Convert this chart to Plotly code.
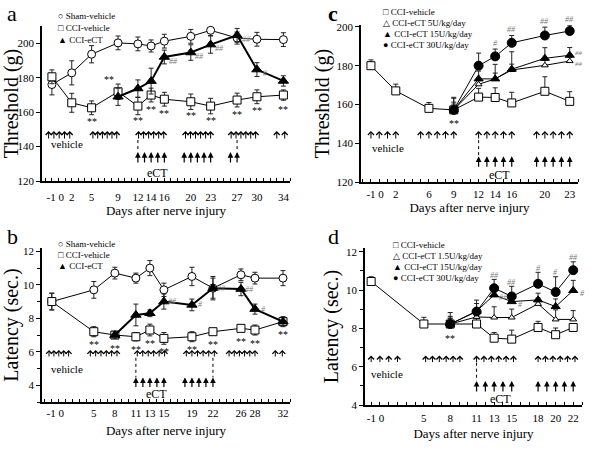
import plotly.graph_objects as go

SERIF = "Liberation Serif, Times New Roman, serif"

# ---------------- data ----------------
# Panel a : mechanical threshold (g)
a_days = [-1, 2, 5, 9, 12, 14, 16, 20, 23, 27, 30, 34]
a_sham = [176.0, 182.8, 193.6, 200.2, 199.6, 198.4, 201.2, 204.0, 207.5, 203.0, 202.3, 202.1]
a_sham_err = [6, 7, 5, 4, 4, 3.5, 4, 4, 3, 3.5, 4, 4]
a_veh = [180.5, 165.4, 162.5, 171.8, 163.5, 169.9, 167.5, 166.0, 163.5, 167.0, 168.9, 169.9]
a_veh_err = [4, 5.5, 4, 4.5, 5, 4, 4, 4.5, 4.5, 4, 4, 3]
a_ect_days = [9, 12, 14, 16, 20, 23, 27, 30, 34]
a_ect = [168.9, 173.7, 178.0, 192.0, 194.6, 199.2, 204.6, 184.7, 178.1]
a_ect_err = [5, 5, 7.5, 4, 4.5, 5, 4, 4, 3]
a_ticks = [-1, 0, 2, 5, 9, 12, 14, 16, 20, 23, 27, 30, 34]
a_star_days = [5, 12, 14, 16, 20, 23, 27, 30, 34]
a_hash = {16: "##", 20: "##", 23: "##", 27: "##", 30: "#"}

# Panel b : thermal latency (sec.)
b_days = [-1, 5, 8, 11, 13, 15, 19, 22, 26, 28, 32]
b_sham = [9.0, 9.7, 10.7, 10.4, 11.0, 9.7, 10.5, 9.8, 10.6, 10.4, 10.4]
b_sham_err = [0.5, 0.5, 0.35, 0.3, 0.45, 0.4, 0.55, 0.6, 0.35, 0.35, 0.45]
b_veh = [9.0, 7.2, 7.0, 6.9, 7.3, 6.8, 6.9, 7.2, 7.4, 7.3, 7.8]
b_veh_err = [0.5, 0.3, 0.2, 0.25, 0.35, 0.35, 0.3, 0.15, 0.15, 0.3, 0.25]
b_ect_days = [8, 11, 13, 15, 19, 22, 26, 28, 32]
b_ect = [7.0, 8.2, 8.3, 9.0, 8.8, 9.8, 9.75, 8.55, 7.8]
b_ect_err = [0.2, 0.65, 0.2, 0.45, 0.35, 0.7, 0.4, 0.3, 0.3]
b_ticks = [-1, 0, 5, 8, 11, 13, 15, 19, 22, 26, 28, 32]
b_star_days = [5, 8, 11, 13, 15, 19, 22, 26, 28, 32]
b_hash = {15: "##", 19: "#", 22: "##", 26: "##", 28: "#"}

# Panel c : threshold, dose response
c_days = [-1, 2, 6, 9, 12, 14, 16, 20, 23]
c_veh = [180.0, 167.0, 158.0, 157.2, 163.8, 163.6, 160.8, 166.8, 161.6]
c_veh_err = [3, 3.5, 3, 6, 4.5, 5, 5.5, 7.5, 5]
c_ect_days = [9, 12, 14, 16, 20, 23]
c_ect5 = [157.2, 170.4, 173.2, 177.8, 180.2, 182.4]
c_ect5_err = [3, 2.5, 3, 3, 2.5, 2]
c_ect15 = [157.2, 173.2, 173.2, 178.2, 183.8, 185.4]
c_ect15_err = [4, 4, 7.5, 9, 5.5, 4]
c_ect30 = [157.2, 180.0, 184.8, 191.8, 195.6, 197.9]
c_ect30_err = [6.5, 6.5, 3.8, 3.8, 4.3, 3]
c_ticks = [-1, 0, 2, 6, 9, 12, 14, 16, 20, 23]
c_hash30 = {14: "#", 16: "##", 20: "##", 23: "##"}

# Panel d : latency, dose response
d_days = [-1, 5, 8, 11, 13, 15, 18, 20, 22]
d_veh = [10.45, 8.23, 8.23, 8.23, 7.49, 7.44, 8.05, 7.67, 8.05]
d_veh_err = [0.25, 0.35, 0.3, 0.3, 0.3, 0.47, 0.32, 0.35, 0.2]
d_ect_days = [8, 11, 13, 15, 18, 20, 22]
d_ect1 = [8.23, 8.6, 8.57, 8.57, 9.28, 8.47, 8.47]
d_ect1_err = [0.3, 0.3, 0.56, 0.44, 0.3, 0.5, 0.46]
d_ect15 = [8.23, 8.9, 9.75, 9.4, 9.49, 9.14, 9.98]
d_ect15_err = [0.4, 0.4, 0.3, 0.3, 0.35, 0.4, 0.53]
d_ect30 = [8.23, 8.88, 10.1, 9.67, 10.33, 9.9, 11.04]
d_ect30_err = [0.6, 0.6, 0.46, 0.53, 0.6, 0.8, 0.44]
d_ticks = [-1, 0, 5, 8, 11, 13, 15, 18, 20, 22]
d_hash30 = {13: "##", 15: "##", 18: "#", 20: "#", 22: "##"}
d_hash15 = {13: "##", 15: "#", 22: "#"}

# injection schedules: (first day, last day, number of injections)
a_vehicle_groups = [(-1.5, 1.7, 5), (5.2, 8.8, 6), (12.1, 15.9, 6), (19.2, 23.0, 6), (26.1, 29.8, 6), (33.0, 34.2, 2)]
a_ect_groups = [(12, 16, 5), (19, 23, 5), (26, 27, 2)]
b_vehicle_groups = [(-1.4, 1.4, 5), (4.5, 8.3, 6), (11.2, 15.1, 6), (18.2, 22.2, 6), (24.3, 28.0, 6), (30.9, 31.9, 2)]
b_ect_groups = [(11, 15, 5), (18, 22, 5)]
c_vehicle_groups = [(-1, 2, 4), (5, 9, 5), (12, 16, 5), (19, 23, 5)]
c_ect_groups = [(12, 16, 5), (19, 23, 5)]
d_vehicle_groups = [(-1, 2, 4), (5.2, 9.1, 6), (11, 15.2, 6), (18, 22.2, 6)]
d_ect_groups = [(11, 15, 5), (18, 22, 5)]

# ---------------- figure ----------------
fig = go.Figure()
ann = []
shapes = []


def series(xr, yr, x, y, err, symbol, size, fill, lw, upper_only):
    fig.add_trace(go.Scatter(
        x=x, y=y, xaxis=xr, yaxis=yr, mode="lines+markers", showlegend=False,
        cliponaxis=False,
        line=dict(color="black", width=lw),
        marker=dict(symbol=symbol, size=size, color=fill, line=dict(color="black", width=1)),
        error_y=dict(type="data", symmetric=False, array=err,
                     arrayminus=[0] * len(err) if upper_only else err,
                     color="#222", thickness=1, width=2.5)))


def txt(xr, yr, x, y, s, size=10, color="black", xshift=0, yshift=0, italic=False, xanchor="center"):
    ann.append(dict(x=x, y=y, xref=xr, yref=yr, text=s, showarrow=False,
                    xshift=xshift, yshift=yshift, xanchor=xanchor,
                    font=dict(family=SERIF, size=size, color=color,
                              style="italic" if italic else "normal")))


def arrows(xr, yr, groups, y, length, head, width, size):
    for first, last, n in groups:
        step = (last - first) / (n - 1) if n > 1 else 0
        for i in range(n):
            ann.append(dict(x=first + i * step, y=y, xref=xr, yref=yr, text="",
                            showarrow=True, ax=0, ay=length, arrowhead=head,
                            arrowsize=size, arrowwidth=width, arrowcolor="black", standoff=0))


def dashed(xr, yr, day, y0, y1):
    shapes.append(dict(type="line", xref=xr, yref=yr, x0=day, x1=day, y0=y0, y1=y1,
                       line=dict(color="black", width=1, dash="dot")))


def legend(entries, x0, y0, dy, size=9):
    for i, s in enumerate(entries):
        ann.append(dict(x=x0 / 600, y=1 - (y0 + i * dy) / 450, xref="paper", yref="paper",
                        text=s, showarrow=False, xanchor="left", yanchor="middle",
                        font=dict(family=SERIF, size=size, color="black")))


OPEN_SIZE, FILL_SIZE = 1.15, 0.95

# ---- panel a (x, y)
series("x", "y", a_days, a_sham, a_sham_err, "circle", 8, "white", 1, False)
series("x", "y", a_days, a_veh, a_veh_err, "square", 8, "white", 1, False)
series("x", "y", a_ect_days, a_ect, a_ect_err, "triangle-up", 9, "black", 2, False)
for d in a_star_days:
    txt("x", "y", d, a_veh[a_days.index(d)], "**", yshift=-14)
txt("x", "y", 9, a_veh[a_days.index(9)], "**", xshift=-9, yshift=12)
for d, s in a_hash.items():
    txt("x", "y", d, a_ect[a_ect_days.index(d)], s, size=8, color="#777", xshift=9, yshift=-4, italic=True)
arrows("x", "y", a_vehicle_groups, 149, 9, 4, 1, OPEN_SIZE)
arrows("x", "y", a_ect_groups, 136.8, 12, 2, 1.2, FILL_SIZE)
for d in [12, 27]:
    dashed("x", "y", d, 143.8, 137)
txt("x", "y", 1.27, 141.4, "vehicle", size=11)
txt("x", "y", 14.9, 124.8, "eCT", size=12)

# ---- panel c (x2, y2)
series("x2", "y2", c_days, c_veh, c_veh_err, "square", 8, "white", 1, True)
series("x2", "y2", c_ect_days, c_ect5, c_ect5_err, "triangle-up", 6, "white", 1, True)
series("x2", "y2", c_ect_days, c_ect15, c_ect15_err, "triangle-up", 8, "black", 1, True)
series("x2", "y2", c_ect_days, c_ect30, c_ect30_err, "circle", 9, "black", 1, True)
txt("x2", "y2", 9, c_veh[c_days.index(9)], "**", yshift=-14)
for d, s in c_hash30.items():
    i = c_ect_days.index(d)
    txt("x2", "y2", d, c_ect30[i] + c_ect30_err[i], s, size=8, color="#777", yshift=6, italic=True)
txt("x2", "y2", 23, c_ect15[-1], "##", size=7, color="#777", xshift=9, yshift=2, italic=True)
txt("x2", "y2", 23, c_ect5[-1], "##", size=7, color="#777", xshift=9, yshift=-3, italic=True)
arrows("x2", "y2", c_vehicle_groups, 146.3, 9, 4, 1, OPEN_SIZE)
arrows("x2", "y2", c_ect_groups, 133.3, 12, 2, 1.2, FILL_SIZE)
dashed("x2", "y2", 12, 141.6, 133.3)
txt("x2", "y2", 1.05, 137.4, "vehicle", size=11)
txt("x2", "y2", 14.5, 123.8, "eCT", size=12)

# ---- panel b (x3, y3)
series("x3", "y3", b_days, b_sham, b_sham_err, "circle", 8, "white", 1, False)
series("x3", "y3", b_days, b_veh, b_veh_err, "square", 8, "white", 1, False)
series("x3", "y3", b_ect_days, b_ect, b_ect_err, "triangle-up", 9, "black", 2, False)
for d in b_star_days:
    txt("x3", "y3", d, b_veh[b_days.index(d)], "**", yshift=-13)
for d, s in b_hash.items():
    txt("x3", "y3", d, b_ect[b_ect_days.index(d)], s, size=8, color="#777", xshift=9, italic=True)
arrows("x3", "y3", b_vehicle_groups, 6.11, 8, 4, 1, OPEN_SIZE)
arrows("x3", "y3", b_ect_groups, 4.47, 11, 2, 1.2, FILL_SIZE)
for d in [11, 22]:
    dashed("x3", "y3", d, 5.64, 4.47)
txt("x3", "y3", 1.14, 5.0, "vehicle", size=11)
txt("x3", "y3", 14, 3.45, "eCT", size=12)

# ---- panel d (x4, y4)
series("x4", "y4", d_days, d_veh, d_veh_err, "square", 8, "white", 1, True)
series("x4", "y4", d_ect_days, d_ect1, d_ect1_err, "triangle-up", 6, "white", 1, True)
series("x4", "y4", d_ect_days, d_ect15, d_ect15_err, "triangle-up", 8, "black", 1, True)
series("x4", "y4", d_ect_days, d_ect30, d_ect30_err, "circle", 9, "black", 1, True)
txt("x4", "y4", 8, d_veh[d_days.index(8)], "**", yshift=-14)
for d, s in d_hash30.items():
    i = d_ect_days.index(d)
    txt("x4", "y4", d, d_ect30[i] + d_ect30_err[i], s, size=8, color="#777", yshift=4, italic=True)
for d, s in d_hash15.items():
    txt("x4", "y4", d, d_ect15[d_ect_days.index(d)], s, size=8, color="#777", xshift=9, yshift=-3, italic=True)
arrows("x4", "y4", d_vehicle_groups, 6.58, 8, 4, 1, OPEN_SIZE)
arrows("x4", "y4", d_ect_groups, 5.26, 12, 2, 1.2, FILL_SIZE)
dashed("x4", "y4", 11, 6.21, 5.26)
txt("x4", "y4", 0.8, 5.6, "vehicle", size=11)
txt("x4", "y4", 13.7, 4.3, "eCT", size=12)

# ---- legends
legend(["\u25CB Sham-vehicle", "\u25A1 CCI-vehicle", "\u25B2 CCI-eCT"], 56, 16, 12)
legend(["\u25A1 CCI-vehicle", "\u25B3 CCI-eCT 5U/kg/day", "\u25B2 CCI-eCT 15U/kg/day", "\u25CF CCI-eCT 30U/kg/day"], 381, 12, 11)
legend(["\u25CB Sham-vehicle", "\u25A1 CCI-vehicle", "\u25B2 CCI-eCT"], 56, 244, 11)
legend(["\u25A1 CCI-vehicle", "\u25B3 CCI-eCT 1.5U/kg/day", "\u25B2 CCI-eCT 15U/kg/day", "\u25CF CCI-eCT 30U/kg/day"], 391, 245, 11)

# ---- panel letters
for letter, px, py, bold in [("a", 12, 14, False), ("c", 333, 14, True), ("b", 12, 236, False), ("d", 333, 236, False)]:
    ann.append(dict(x=px / 600, y=1 - py / 450, xref="paper", yref="paper", text=f"<b>{letter}</b>" if bold else letter,
                    showarrow=False, xanchor="center", yanchor="middle",
                    font=dict(family=SERIF, size=22, color="black")))


def tick_pos_text(ticks):
    # days -1 and 0 share one combined label "-1 0", centred between them
    vals, texts = [], []
    for t in ticks:
        if t == -1:
            continue
        if t == 0:
            vals.append((-1 + 0) / 2)
            texts.append("-1 0")
        else:
            vals.append(t)
            texts.append(str(t))
    return vals, texts


def xax(domain, rng, ticks, anchor, lblgap, titlegap):
    vals, texts = tick_pos_text(ticks)
    return dict(domain=domain, range=rng, anchor=anchor, tickmode="array", tickvals=vals,
                ticktext=texts, tickangle=0, automargin=False,
                showline=True, linecolor="black", linewidth=1.5, mirror=False,
                ticks="", showgrid=False, zeroline=False,
                minor=dict(tickmode="linear", tick0=0, dtick=1, ticks="inside", ticklen=3,
                           tickcolor="black", tickwidth=1, showgrid=False),
                ticklabelstandoff=lblgap,
                tickfont=dict(family=SERIF, size=11, color="black"),
                title=dict(text="Days after nerve injury", standoff=titlegap,
                           font=dict(family=SERIF, size=13, color="black")))


def yax(domain, rng, dtick, anchor, title, minor_dtick=None):
    d = dict(domain=domain, range=rng, anchor=anchor, tickmode="linear", tick0=0, dtick=dtick,
             automargin=False,
             showline=True, linecolor="black", linewidth=1.5,
             ticks="outside", ticklen=4, tickcolor="black", tickwidth=1,
             showgrid=False, zeroline=False,
             tickfont=dict(family=SERIF, size=11, color="black"),
             title=dict(text=title, standoff=2, font=dict(family=SERIF, size=20, color="black")))
    if minor_dtick:
        d["minor"] = dict(tickmode="linear", tick0=0, dtick=minor_dtick, ticks="outside", ticklen=3,
                          tickcolor="black", tickwidth=1, showgrid=False)
    return d


fig.update_layout(
    template="none",
    width=600, height=450, margin=dict(l=0, r=0, t=0, b=0),
    paper_bgcolor="white", plot_bgcolor="white", showlegend=False,
    xaxis=xax([42 / 600, 290 / 600], [-2.5, 35], a_ticks, "y", 5, 2),
    yaxis=yax([1 - 181 / 450, 1 - 26 / 450], [120, 210], 20, "x", "Threshold (g)"),
    xaxis2=xax([361 / 600, 578 / 600], [-2.2, 24], c_ticks, "y2", 1, 0),
    yaxis2=yax([1 - 182 / 450, 1 - 25 / 450], [120, 201], 20, "x2", "Threshold (g)"),
    xaxis3=xax([42 / 600, 290 / 600], [-2.4, 33], b_ticks, "y3", 0, 8),
    yaxis3=yax([1 - 402 / 450, 1 - 248 / 450], [3, 12.2], 2, "x3", "Latency (sec.)", 1),
    xaxis4=xax([365 / 600, 582 / 600], [-1.7, 23], d_ticks, "y4", 2, 6),
    yaxis4=yax([1 - 405 / 450, 1 - 248 / 450], [4, 12.2], 2, "x4", "Latency (sec.)", 1),
    annotations=ann, shapes=shapes,
)

fig.write_html("out.html", config={"displayModeBar": False},
               post_script="document.body.style.margin='0';document.body.style.overflow='hidden';")
